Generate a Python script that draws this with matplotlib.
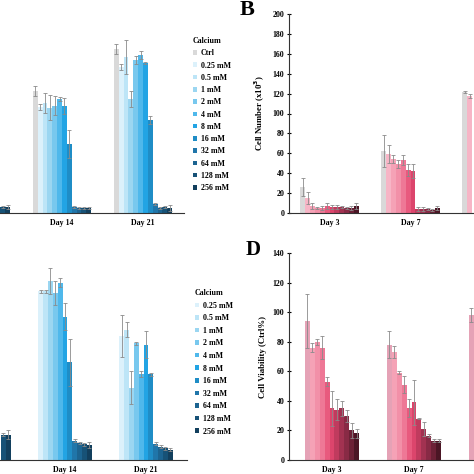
import numpy as np
import matplotlib.pyplot as plt
from matplotlib.patches import Patch

plt.rcParams["font.family"] = ["Liberation Serif", "DejaVu Serif"]
plt.rcParams["font.weight"] = "bold"

nan = np.nan
days = ["Day 3", "Day 7", "Day 14", "Day 21"]
conc_ctrl = ["Ctrl", "0.25 mM", "0.5 mM", "1 mM", "2 mM", "4 mM", "8 mM",
             "16 mM", "32 mM", "64 mM", "128 mM", "256 mM"]
conc = conc_ctrl[1:]

# Panel A (blue, with Ctrl) - values hidden by the crop are nan
a_day3 = [nan] * 12
a_day7 = [nan] * 10 + [6, 6]
a_day14 = [123, 107, 111, 106, 108, 115, 108, 69, 6, 5, 5, 5]
a_day21 = [165, 147, 157, 115, 154, 159, 151, 93, 9, 5, 6, 5]
a_err3 = [nan] * 12
a_err7 = [nan] * 10 + [1, 2]
a_err14 = [5, 3, 10, 13, 10, 2, 8, 14, 1, 1, 1, 1]
a_err21 = [5, 3, 17, 8, 4, 4, 1, 4, 1, 1, 1, 3]

# Panel B (pink, with Ctrl)
b_day3 = [26, 15, 7, 5, 5, 7, 6, 6, 6, 5, 5, 7]
b_day7 = [62, 59, 54, 49, 53, 43, 42, 4, 4, 4, 3, 5]
b_day14 = [122, 118] + [nan] * 10
b_day21 = [nan] * 12
b_err3 = [9, 6, 3, 1, 2, 3, 2, 2, 1, 1, 2, 3]
b_err7 = [16, 9, 4, 4, 5, 6, 7, 2, 2, 1, 1, 2]
b_err14 = [1, 2] + [nan] * 10
b_err21 = [nan] * 12

# Panel C (blue, no Ctrl)
c_day3 = [nan] * 11
c_day7 = [nan] * 9 + [17, 17]
c_day14 = [114, 114, 121, 113, 120, 97, 66, 13, 11.5, 10.5, 10]
c_day21 = [84, 88, 49, 79, 58, 78, 58, 11, 9, 8, 7]
c_err3 = [nan] * 11
c_err7 = [nan] * 9 + [1, 3]
c_err14 = [1, 1, 9, 8, 3, 9, 16, 1, 1, 1, 2]
c_err21 = [14, 5, 11, 1, 2, 9, 1, 1, 1, 1, 1]

# Panel D (pink, no Ctrl)
d_day3 = [94, 76, 80, 76, 53, 35, 34, 35, 30, 20, 18]
d_day7 = [78, 73, 59, 51, 35, 39, 28, 21, 16.5, 13, 13]
d_day14 = [98] + [nan] * 10
d_day21 = [nan] * 11
d_err3 = [18, 3, 2, 8, 3, 12, 7, 5, 4, 5, 3]
d_err7 = [9, 4, 1, 6, 6, 15, 0.5, 5, 1, 1, 1]
d_err14 = [5] + [nan] * 10
d_err21 = [nan] * 11

blues = ["#d9d9d9", "#dcf1fb", "#bde5f7", "#9bd6f1", "#78c8ee", "#4fb8eb",
         "#22a4e4", "#1f8dc6", "#2076aa", "#1c6491", "#175277", "#123f5d"]
pinks = ["#d9d9d9", "#f7b5c6", "#f5a2b6", "#f290a8", "#ee7896", "#e85a7e",
         "#dc456c", "#c03b5e", "#a23251", "#882a45", "#6c2136", "#4b1625"]
pinks_d = ["#e5a2b6"] + pinks[2:]

W = 474
FS = 5.7
BAR_W = 0.06

fig = plt.figure(figsize=(4.74, 4.74), dpi=100)


def add_ax(left, base, width, height):
    # pixel box -> figure fraction
    return fig.add_axes([left / W, (W - base) / W, width / W, height / W])


def draw_panel(ax, groups, errs, colors, ymax, ystep, shown_days,
               ylabel=None, xlim=(-0.5, 3.5)):
    vals = np.array(groups, dtype=float)
    err = np.array(errs, dtype=float)
    n = vals.shape[1]
    x = np.arange(len(days))
    for i in range(n):
        off = (i - (n - 1) / 2) * BAR_W
        ax.bar(x + off, vals[:, i], BAR_W, color=colors[i], linewidth=0,
               yerr=err[:, i],
               error_kw=dict(ecolor="#8a8a8a", elinewidth=0.6, capsize=1.2, capthick=0.6))
    ax.set_xlim(*xlim)
    ax.set_ylim(0, ymax)
    ax.set_xticks(x)
    # days that fall outside the cropped picture get no label
    ax.set_xticklabels([d if d in shown_days else "" for d in days],
                       fontsize=FS, fontweight="bold")
    ax.tick_params(axis="x", length=0, pad=4)
    for s in ["top", "right"]:
        ax.spines[s].set_visible(False)
    ax.spines["bottom"].set_color("#333333")
    ax.spines["left"].set_color("#333333")
    if ylabel is None:
        ax.spines["left"].set_visible(False)
        ax.set_yticks([])
    else:
        ax.set_yticks(np.arange(0, ymax + 1, ystep))
        ax.tick_params(axis="y", direction="inout", length=3, width=0.8,
                       labelsize=FS, pad=2)
        ax.set_ylabel(ylabel, fontsize=FS + 0.6, fontweight="bold", labelpad=4)
    ax.patch.set_alpha(0)


ax_a = add_ax(-140.5, 213, 324, 199)
draw_panel(ax_a, [a_day3, a_day7, a_day14, a_day21],
           [a_err3, a_err7, a_err14, a_err21], blues, 200, 20,
           ["Day 14", "Day 21"])

ax_b = add_ax(289, 213, 324, 199)
draw_panel(ax_b, [b_day3, b_day7, b_day14, b_day21],
           [b_err3, b_err7, b_err14, b_err21], pinks, 200, 20,
           ["Day 3", "Day 7"], ylabel="Cell Number (x10$^{\\mathbf{3}}$)")

ax_c = add_ax(-137.5, 460, 324, 207)
draw_panel(ax_c, [c_day3, c_day7, c_day14, c_day21],
           [c_err3, c_err7, c_err14, c_err21], blues[1:], 140, 20,
           ["Day 14", "Day 21"])

ax_d = add_ax(289, 460, 330, 207)
draw_panel(ax_d, [d_day3, d_day7, d_day14, d_day21],
           [d_err3, d_err7, d_err14, d_err21], pinks_d, 140, 20,
           ["Day 3", "Day 7"], ylabel="Cell Viability (Ctrl%)", xlim=(-0.524, 3.5))


def add_legend(colors, labels, x_px, y_px, spacing):
    handles = [Patch(facecolor=c, edgecolor="none") for c in colors]
    leg = fig.legend(handles, labels, loc="upper left",
                     bbox_to_anchor=(x_px / W, 1 - y_px / W),
                     frameon=False, title="Calcium", alignment="left",
                     fontsize=FS, title_fontproperties={"weight": "bold", "size": FS},
                     handlelength=0.5, handleheight=0.5, handletextpad=0.45,
                     labelspacing=spacing, borderpad=0, borderaxespad=0)
    for t in leg.get_texts():
        t.set_fontweight("bold")
    return leg


add_legend(blues, conc_ctrl, 193, 37, 0.54)
add_legend(blues[1:], conc, 195, 289, 0.58)

fig.text(240 / W, 1 - 15 / W, "B", fontsize=16, fontweight="bold", va="baseline")
fig.text(246 / W, 1 - 255 / W, "D", fontsize=15, fontweight="bold", va="baseline")

fig.savefig("out.png", dpi=100)
